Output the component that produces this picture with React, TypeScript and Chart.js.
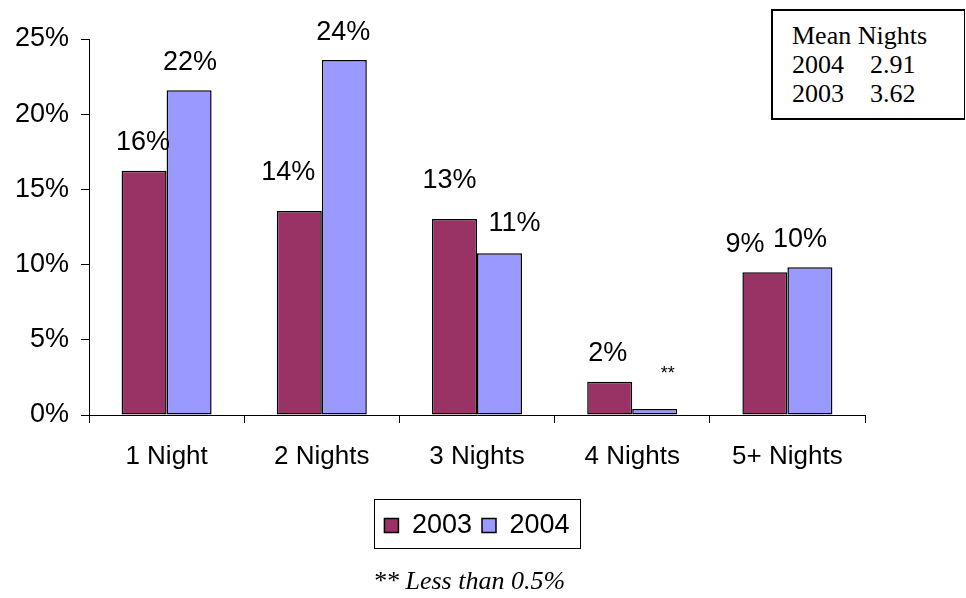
import React, { useEffect, useRef } from "react";
import { Chart, registerables } from "chart.js";

Chart.register(...registerables);

const categories = ["1 Night", "2 Nights", "3 Nights", "4 Nights", "5+ Nights"];
const series2003 = [16.24, 13.57, 13.03, 2.21, 9.49];
const series2004 = [21.59, 23.6, 10.76, 0.4, 9.83];
const labels2003 = ["16%", "14%", "13%", "2%", "9%"];
const labels2004 = ["22%", "24%", "11%", "**", "10%"];
const yTickValues = [0, 5, 10, 15, 20, 25];
const meanTitle = "Mean Nights";
const meanYears = ["2004", "2003"];
const meanValues = ["2.91", "3.62"];
const footnote = "** Less than 0.5%";

// label placement (styling only)
const labelDx = [
  [-1, -11, -5, -2, -20],
  [1, -1, 15, 13, -10],
];
const labelLift = [
  [28, 38, 38, 28, 28],
  [28, 28, 30, 35, 28],
];

const SANS = '"Liberation Sans", Arial, sans-serif';
const SERIF = '"Liberation Serif", "Times New Roman", serif';

const dataLabelPlugin = {
  id: "dataLabels",
  afterDatasetsDraw(chart: any) {
    const ctx = chart.ctx;
    const texts = [labels2003, labels2004];
    chart.data.datasets.forEach((_ds: any, di: number) => {
      const meta = chart.getDatasetMeta(di);
      meta.data.forEach((el: any, i: number) => {
        const t = texts[di][i];
        const small = t === "**";
        ctx.save();
        ctx.font = (small ? "18px " : "27px ") + SANS;
        ctx.fillStyle = "#000";
        ctx.textAlign = "center";
        ctx.textBaseline = "middle";
        ctx.fillText(t, el.x + labelDx[di][i], el.y - labelLift[di][i]);
        ctx.restore();
      });
    });
  },
};

const legendBorderPlugin = {
  id: "legendBorder",
  afterDraw(chart: any) {
    const lg = chart.legend;
    if (!lg || !lg.legendHitBoxes || !lg.legendHitBoxes.length) return;
    const hb = lg.legendHitBoxes;
    const left = Math.min(...hb.map((h: any) => h.left)) - 10;
    const right = Math.max(...hb.map((h: any) => h.left + h.width)) + 11;
    const top = lg.top - 3;
    const bottom = lg.bottom - 1;
    const ctx = chart.ctx;
    ctx.save();
    ctx.strokeStyle = "#000";
    ctx.lineWidth = 1;
    ctx.strokeRect(Math.round(left) + 0.5, Math.round(top) + 0.5, Math.round(right - left), Math.round(bottom - top));
    ctx.restore();
  },
};

export default function App() {
  const canvasRef = useRef<HTMLCanvasElement | null>(null);

  useEffect(() => {
    if (!canvasRef.current) return;
    const chart = new Chart(canvasRef.current, {
      type: "bar",
      data: {
        labels: categories,
        datasets: [
          {
            label: "2003",
            data: series2003,
            backgroundColor: "#993366",
            borderColor: "#000000",
            borderWidth: 1.5,
            borderSkipped: false,
            categoryPercentage: 0.58,
            barPercentage: 1,
          },
          {
            label: "2004",
            data: series2004,
            backgroundColor: "#9999FF",
            borderColor: "#000000",
            borderWidth: 1.5,
            borderSkipped: false,
            categoryPercentage: 0.58,
            barPercentage: 1,
          },
        ],
      },
      options: {
        animation: false,
        responsive: true,
        maintainAspectRatio: false,
        layout: { padding: { top: 39, right: 101, bottom: 49, left: 0 } },
        plugins: {
          tooltip: { enabled: false },
          legend: {
            position: "bottom",
            fullSize: false,
            labels: {
              boxWidth: 14,
              boxHeight: 14,
              padding: 10,
              color: "#000",
              font: { family: SANS, size: 27 },
            },
          },
        },
        scales: {
          x: {
            grid: {
              offset: true,
              drawOnChartArea: false,
              drawTicks: true,
              tickLength: 8,
              color: "#000",
            },
            border: { color: "#000", width: 1 },
            ticks: {
              color: "#000",
              padding: 18,
              font: { family: SANS, size: 26 },
              maxRotation: 0,
            },
            afterFit(scale: any) {
              scale.height = 87;
            },
          },
          y: {
            min: 0,
            max: 25,
            afterBuildTicks(scale: any) {
              scale.ticks = yTickValues.map((v) => ({ value: v }));
            },
            grid: {
              drawOnChartArea: false,
              drawTicks: true,
              tickLength: 8,
              color: "#000",
            },
            border: { color: "#000", width: 1 },
            ticks: {
              color: "#000",
              padding: 12,
              font: { family: SANS, size: 27 },
              callback: (v: any) => `${v}%`,
            },
            afterFit(scale: any) {
              scale.width = 89;
            },
          },
        },
      },
      plugins: [dataLabelPlugin, legendBorderPlugin],
    } as any);
    return () => chart.destroy();
  }, []);

  return (
    <div style={{ position: "absolute", left: 0, top: 0, width: 966, height: 598, background: "#fff", overflow: "hidden" }}>
      <canvas ref={canvasRef} style={{ position: "absolute", left: 0, top: 0 }} />
      <div
        style={{
          position: "absolute",
          left: 771,
          top: 9,
          width: 194,
          height: 111,
          boxSizing: "border-box",
          border: "2px solid #000",
          borderRight: "1px solid #000",
          paddingTop: 10,
          paddingLeft: 19,
          fontFamily: SERIF,
          fontSize: 26,
          lineHeight: "29px",
          color: "#000",
          background: "#fff",
          whiteSpace: "nowrap",
        }}
      >
        <div>{meanTitle}</div>
        {meanYears.map((y, i) => (
          <div key={y}>
            <span style={{ display: "inline-block", width: 78 }}>{y}</span>
            <span>{meanValues[i]}</span>
          </div>
        ))}
      </div>
      <div
        style={{
          position: "absolute",
          left: 373,
          top: 566,
          fontFamily: SERIF,
          fontStyle: "italic",
          fontSize: 26,
          lineHeight: "30px",
          color: "#000",
          whiteSpace: "nowrap",
        }}
      >
        {footnote}
      </div>
    </div>
  );
}
